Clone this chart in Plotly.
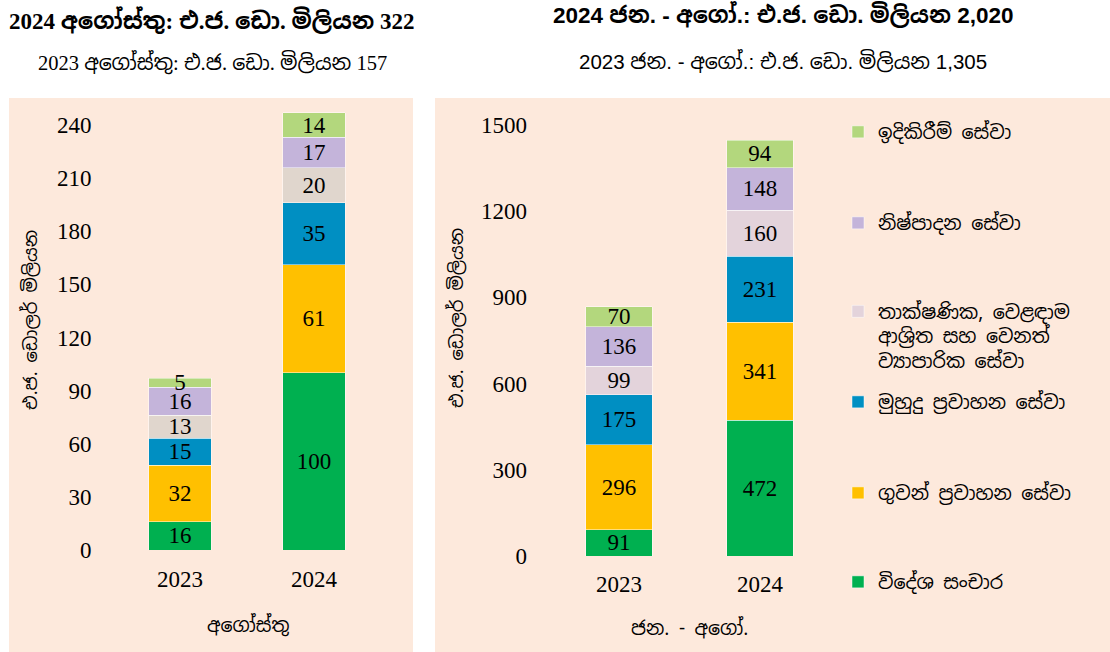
import plotly.graph_objects as go

W, H = 1110, 652

categories = ["2023", "2024"]
series_names = [
    "විදේශ සංචාර",
    "ගුවන් ප්\u200dරවාහන සේවා",
    "මුහුදු ප්\u200dරවාහන සේවා",
    "තාක්ෂණික, වෙළඳාම<br>ආශ්\u200dරිත සහ වෙනත්<br>ව්\u200dයාපාරික සේවා",
    "නිෂ්පාදන සේවා",
    "ඉදිකිරීම් සේවා",
]
colors_left = ["#00B050", "#FFC000", "#008FC2", "#E0D6CD", "#C4B4DA", "#B3D77D"]
colors_right = ["#00B050", "#FFC000", "#008FC2", "#E3D3DB", "#C4B4DA", "#B3D77D"]

aug_values = [
    [16, 100],
    [32, 61],
    [15, 35],
    [13, 20],
    [16, 17],
    [5, 14],
]
janaug_values = [
    [91, 472],
    [296, 341],
    [175, 231],
    [99, 160],
    [136, 148],
    [70, 94],
]
left_ticks = [0, 30, 60, 90, 120, 150, 180, 210, 240]
right_ticks = [0, 300, 600, 900, 1200, 1500]

SERIF = "Liberation Serif, Times New Roman, Noto Sans Sinhala, serif"
SANS = "Liberation Sans, Arial, Noto Sans Sinhala, sans-serif"
SIN = "Noto Sans Sinhala, Iskoola Pota, Noto Sans, Liberation Serif, serif"
BG = "#FDE9DC"

def px(x):
    return x / W

def py(y):
    return 1 - y / H

fig = go.Figure()

legend_y = [582, 493, 402, 312, 223, 132]
legend_keys = ["legend", "legend2", "legend3", "legend4", "legend5", "legend6"]

for i, name in enumerate(series_names):
    fig.add_trace(go.Bar(
        x=categories, y=aug_values[i], name=name,
        marker=dict(color=colors_left[i], line=dict(color="rgba(255,255,255,0.6)", width=0.8)),
        width=0.47, texttemplate="%{y}", textposition="inside",
        insidetextanchor="middle", constraintext="none", textangle=0,
        textfont=dict(family=SERIF, size=23, color="black"),
        showlegend=False, xaxis="x", yaxis="y", hoverinfo="skip",
    ))

for i, name in enumerate(series_names):
    fig.add_trace(go.Bar(
        x=categories, y=janaug_values[i], name=name,
        marker=dict(color=colors_right[i], line=dict(color="rgba(255,255,255,0.6)", width=0.8)),
        width=0.47, texttemplate="%{y}", textposition="inside",
        insidetextanchor="middle", constraintext="none", textangle=0,
        textfont=dict(family=SERIF, size=23, color="black"),
        showlegend=True, legend=legend_keys[i], xaxis="x2", yaxis="y2", hoverinfo="skip",
    ))

legend_layout = {}
for i, key in enumerate(legend_keys):
    multi = "<br>" in series_names[i]
    legend_layout[key] = dict(
        x=px(838), y=py(legend_y[i] - (19.5 if multi else 0)),
        xanchor="left", yanchor="top" if multi else "middle",
        bgcolor="rgba(0,0,0,0)", borderwidth=0,
        font=dict(family=SIN, size=19, color="black"),
        valign="top", itemwidth=30,
    )

axis_common = dict(showgrid=False, zeroline=False, showline=False, automargin=False)

fig.update_layout(
    width=W, height=H,
    margin=dict(l=0, r=0, t=0, b=0, autoexpand=False),
    paper_bgcolor="white", plot_bgcolor="rgba(0,0,0,0)",
    barmode="stack", bargap=0.53,
    xaxis=dict(domain=[px(113), px(381)], type="category", anchor="y",
               tickfont=dict(family=SERIF, size=23, color="black"),
               ticks="outside", ticklen=8, tickcolor="rgba(0,0,0,0)", **axis_common),
    yaxis=dict(domain=[1 - 550 / H, 1 - 107.3 / H], range=[0, 250], anchor="x",
               tickvals=left_ticks,
               tickfont=dict(family=SERIF, size=23, color="black"),
               ticks="outside", ticklen=16, tickcolor="rgba(0,0,0,0)", **axis_common),
    xaxis2=dict(domain=[px(548.5), px(830.5)], type="category", anchor="y2",
                tickfont=dict(family=SERIF, size=23, color="black"),
                ticks="outside", ticklen=7, tickcolor="rgba(0,0,0,0)", **axis_common),
    yaxis2=dict(domain=[1 - 556 / H, 1 - 110.6 / H], range=[0, 1550], anchor="x2",
                tickvals=right_ticks,
                tickfont=dict(family=SERIF, size=23, color="black"),
                ticks="outside", ticklen=16, tickcolor="rgba(0,0,0,0)", **axis_common),
    shapes=[
        dict(type="rect", xref="paper", yref="paper", x0=px(9), x1=px(413), y0=0, y1=py(98),
             fillcolor=BG, line=dict(width=0), layer="below"),
        dict(type="rect", xref="paper", yref="paper", x0=px(435), x1=1, y0=0, y1=py(98),
             fillcolor=BG, line=dict(width=0), layer="below"),
    ],
    annotations=[
        dict(text="<b>2024 අගෝස්තු: එ.ජ. ඩො. මිලියන 322</b>", x=px(212), y=py(20),
             xref="paper", yref="paper", showarrow=False, xanchor="center", yanchor="middle",
             font=dict(family=SERIF, size=23, color="black")),
        dict(text="2023 අගෝස්තු: එ.ජ. ඩො. මිලියන 157", x=px(212), y=py(62),
             xref="paper", yref="paper", showarrow=False, xanchor="center", yanchor="middle",
             font=dict(family=SERIF, size=20.5, color="black")),
        dict(text="<b>2024 ජන. - අගෝ.: එ.ජ. ඩො. මිලියන 2,020</b>", x=px(783), y=py(15),
             xref="paper", yref="paper", showarrow=False, xanchor="center", yanchor="middle",
             font=dict(family=SANS, size=22.5, color="black")),
        dict(text="2023 ජන. - අගෝ.: එ.ජ. ඩො. මිලියන 1,305", x=px(783), y=py(60),
             xref="paper", yref="paper", showarrow=False, xanchor="center", yanchor="middle",
             font=dict(family=SANS, size=20.5, color="black")),
        dict(text="එ.ජ. ඩොලර් මිලියන", x=px(30), y=py(320), textangle=-90,
             xref="paper", yref="paper", showarrow=False, xanchor="center", yanchor="middle",
             font=dict(family=SIN, size=18, color="black")),
        dict(text="එ.ජ. ඩොලර් මිලියන", x=px(456), y=py(318), textangle=-90,
             xref="paper", yref="paper", showarrow=False, xanchor="center", yanchor="middle",
             font=dict(family=SIN, size=18, color="black")),
        dict(text="අගෝස්තු", x=px(248), y=py(625),
             xref="paper", yref="paper", showarrow=False, xanchor="center", yanchor="middle",
             font=dict(family=SIN, size=19, color="black")),
        dict(text="ජන. - අගෝ.", x=px(689), y=py(628),
             xref="paper", yref="paper", showarrow=False, xanchor="center", yanchor="middle",
             font=dict(family=SIN, size=19, color="black")),
    ],
    **legend_layout,
)

post = "document.documentElement.style.margin='0'; document.body.style.margin='0';"

fig.write_html("out.html", post_script=post, config={"displayModeBar": False})
